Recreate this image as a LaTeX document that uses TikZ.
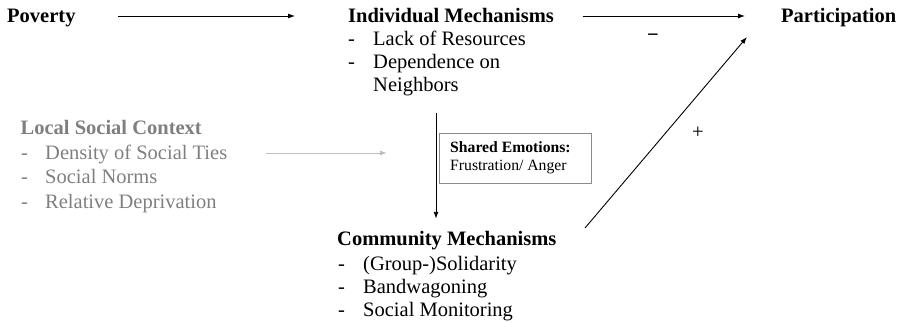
\documentclass[tikz,border=0pt]{standalone}
\usepackage{fontspec}
\setmainfont{Liberation Serif}
\usetikzlibrary{arrows.meta}
\definecolor{ctxtext}{HTML}{7F7F7F}
\definecolor{ctxarrow}{HTML}{BFBFBF}
\definecolor{boxline}{HTML}{8C8C8C}
\begin{document}
\begin{tikzpicture}[x=1pt,y=-1pt,
  every node/.style={inner sep=0pt, anchor=base west, text height=14pt, text depth=0pt,
    font=\fontsize{20.5}{23}\selectfont},
  ttl/.style={font=\fontsize{20.5}{23}\selectfont\bfseries},
  ctx/.style={text=ctxtext},
  small/.style={font=\fontsize{15.7}{18}\selectfont},
  smallbold/.style={font=\fontsize{15.7}{18}\selectfont\bfseries},
  sign/.style={anchor=base},
  arr/.style={-{Latex[length=7pt,width=5pt]}, line width=0.9pt},
  ctxarr/.style={-{Latex[length=7pt,width=5pt]}, line width=0.9pt, draw=ctxarrow},
  emobox/.style={draw=boxline, line width=1.2pt, anchor=north west, text height=, text depth=,
    minimum width=152pt, minimum height=50pt}
]
\useasboundingbox (0,0) rectangle (904,323);

% top row
\node[ttl] (pov) at (7,23) {Poverty};
\node[ttl] (indiv) at (348,23) {Individual Mechanisms};
\node[ttl] (part) at (781,23) {Participation};

% individual mechanisms list
\node (id1) at (348,46) {-};
\node (i1) at (373,46) {Lack of Resources};
\node (id2) at (348,69) {-};
\node (i2) at (373,69) {Dependence on};
\node (i3) at (373,92) {Neighbors};

% local social context
\node[ttl,ctx] (ctx) at (20.5,135) {Local Social Context};
\node[ctx] (cd1) at (21,160) {-};
\node[ctx] (c1) at (45,160) {Density of Social Ties};
\node[ctx] (cd2) at (21,184) {-};
\node[ctx] (c2) at (45,184) {Social Norms};
\node[ctx] (cd3) at (21,208) {-};
\node[ctx] (c3) at (45,208) {Relative Deprivation};

% community mechanisms
\node[ttl] (comm) at (337,245) {Community Mechanisms};
\node (md1) at (338,270) {-};
\node (m1) at (363,270) {(Group-)Solidarity};
\node (md2) at (338,293) {-};
\node (m2) at (363,293) {Bandwagoning};
\node (md3) at (338,316) {-};
\node (m3) at (363,316) {Social Monitoring};

% shared emotions box
\node[emobox] (emo) at (439,133) {};
\node[smallbold] (emo1) at (450,153) {Shared Emotions:};
\node[small] (emo2) at (450,171) {Frustration/ Anger};

% signs
\node[sign,ttl] (minus) at (653,41.5) {−};
\node[sign] (plus) at (698,138.5) {+};

% connector ends
\coordinate (ctxend) at (387,153);
\coordinate (vtop) at (436,113);
\coordinate (dstart) at (585,228);
\coordinate (dend) at (747,37);

% connectors
\draw[arr, shorten <=42.3pt, shorten >=53pt] (pov) -- (indiv);
\draw[arr, shorten <=28.5pt, shorten >=36pt] (indiv) -- (part);
\draw[ctxarr, shorten <=38.5pt] (c1) -- (ctxend);
\draw[arr, shorten >=12pt] (vtop) -- (vtop |- comm.north);
\draw[arr] (dstart) -- (dend);
\end{tikzpicture}
\end{document}
